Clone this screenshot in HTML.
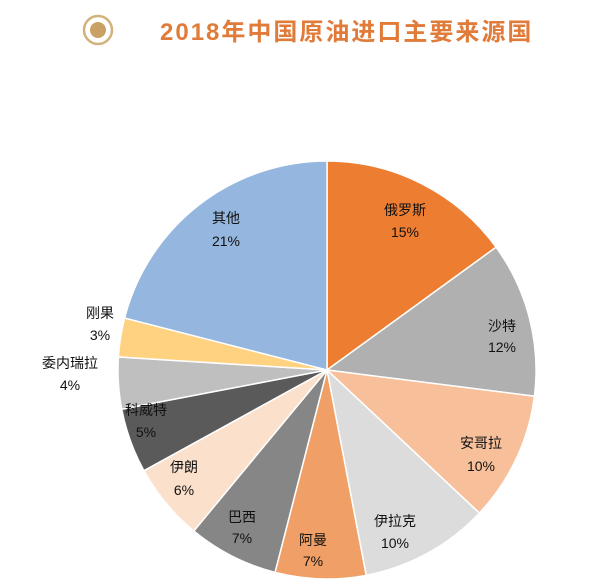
<!DOCTYPE html>
<html><head><meta charset="utf-8"><style>
body{margin:0;background:#fff;width:600px;height:582px;overflow:hidden}
svg text{font-family:"Liberation Sans","Noto Sans CJK SC",sans-serif;font-size:14px;fill:#111;text-anchor:middle}
</style></head><body>
<svg width="600" height="582" viewBox="0 0 600 582">
<circle cx="98" cy="30" r="14" fill="none" stroke="#D2B27C" stroke-width="2.5"/>
<circle cx="98" cy="30" r="8" fill="#C9A263"/>
<text x="160" y="40" style="font-size:24px;font-weight:bold;fill:#E07B39;text-anchor:start;letter-spacing:2px">2018年中国原油进口主要来源国</text>
<g stroke="#fff" stroke-width="1.5">
<path d="M327,370 L327,161 A209,209 0 0 1 496.1,247.2 Z" fill="#ED7D31"/>
<path d="M327,370 L496.1,247.2 A209,209 0 0 1 534.4,396.2 Z" fill="#B0B0B0"/>
<path d="M327,370 L534.4,396.2 A209,209 0 0 1 479.4,513.1 Z" fill="#F7C09A"/>
<path d="M327,370 L479.4,513.1 A209,209 0 0 1 366.2,575.3 Z" fill="#DCDCDC"/>
<path d="M327,370 L366.2,575.3 A209,209 0 0 1 275.0,572.4 Z" fill="#F0A066"/>
<path d="M327,370 L275.0,572.4 A209,209 0 0 1 193.8,531.0 Z" fill="#868686"/>
<path d="M327,370 L193.8,531.0 A209,209 0 0 1 143.9,470.7 Z" fill="#FBE0CC"/>
<path d="M327,370 L143.9,470.7 A209,209 0 0 1 121.7,409.2 Z" fill="#5A5A5A"/>
<path d="M327,370 L121.7,409.2 A209,209 0 0 1 118.4,356.9 Z" fill="#BFBFBF"/>
<path d="M327,370 L118.4,356.9 A209,209 0 0 1 124.6,318.0 Z" fill="#FFD281"/>
<path d="M327,370 L124.6,318.0 A209,209 0 0 1 327,161 Z" fill="#95B6DE"/>
</g>
<text x="405" y="215">俄罗斯</text><text x="405" y="237">15%</text>
<text x="502" y="331">沙特</text><text x="502" y="352">12%</text>
<text x="481" y="448">安哥拉</text><text x="481" y="471">10%</text>
<text x="395" y="526">伊拉克</text><text x="395" y="548">10%</text>
<text x="313" y="545">阿曼</text><text x="313" y="566">7%</text>
<text x="242" y="522">巴西</text><text x="242" y="543">7%</text>
<text x="184" y="472">伊朗</text><text x="184" y="495">6%</text>
<text x="146" y="415">科威特</text><text x="146" y="437">5%</text>
<text x="70" y="368">委内瑞拉</text><text x="70" y="390">4%</text>
<text x="100" y="318">刚果</text><text x="100" y="340">3%</text>
<text x="226" y="223">其他</text><text x="226" y="246">21%</text>
</svg>
</body></html>
